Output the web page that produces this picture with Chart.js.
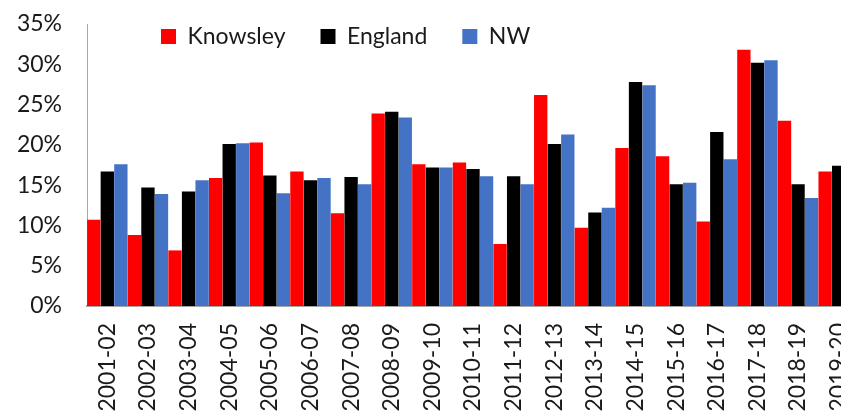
<!DOCTYPE html>
<html>
<head>
<meta charset="utf-8">
<script src="https://cdn.jsdelivr.net/npm/chart.js@4"></script>
<style>
  html, body { margin: 0; padding: 0; background: #fff; overflow: hidden; }
  canvas { display: block; }
</style>
</head>
<body>
<canvas id="chart" width="859" height="414"></canvas>
<script>
// Years shown on the x axis
const years = ['2001-02', '2002-03', '2003-04', '2004-05', '2005-06', '2006-07', '2007-08',
  '2008-09', '2009-10', '2010-11', '2011-12', '2012-13', '2013-14', '2014-15', '2015-16',
  '2016-17', '2017-18', '2018-19', '2019-20'];

// Values in percent
const knowsley = [10.7, 8.8, 6.9, 15.9, 20.3, 16.7, 11.5, 23.9, 17.6, 17.8, 7.7, 26.2, 9.7, 19.6, 18.6, 10.5, 31.8, 23.0, 16.7];
const england = [16.7, 14.7, 14.2, 20.1, 16.2, 15.6, 16.0, 24.1, 17.2, 17.0, 16.1, 20.1, 11.6, 27.8, 15.1, 21.6, 30.2, 15.1, 17.4];
const nw = [17.6, 13.9, 15.6, 20.2, 14.0, 15.9, 15.1, 23.4, 17.2, 16.1, 15.1, 21.3, 12.2, 27.4, 15.3, 18.2, 30.5, 13.4, 16.9];

const font = { family: 'Lato', size: 23 };
const textColor = '#1a1a1a';
const axisGrey = '#a6a6a6';

// legend sits inside the plot, so take it out of the layout and place it by hand
const legendPlacer = {
  id: 'legendPlacer',
  beforeLayout(chart) {
    const lg = chart.legend;
    if (!lg || lg._placed) return;
    lg._placed = true;
    const fit = lg.fit;
    lg.fit = function () {
      fit.call(this);
      this.realHeight = this.height;
      this.height = 0;
    };
  },
  afterLayout(chart) {
    const lg = chart.legend;
    const pad = lg.options.labels.padding;
    lg.left = 161 - pad;
    lg.right = chart.width;
    lg.width = lg.right - lg.left;
    lg.top = 25 - pad;
    lg.height = lg.realHeight;
    lg.bottom = lg.top + lg.height;
    lg.adjustHitBoxes();
  }
};

new Chart(document.getElementById('chart'), {
  type: 'bar',
  data: {
    labels: years,
    datasets: [
      { label: 'Knowsley', data: knowsley, backgroundColor: '#ff0000' },
      { label: 'England', data: england, backgroundColor: '#000000' },
      { label: 'NW', data: nw, backgroundColor: '#4472c4' }
    ]
  },
  options: {
    responsive: false,
    animation: false,
    layout: { padding: { top: 24, left: 0, right: 0, bottom: 0 } },
    datasets: { bar: { barPercentage: 0.985, categoryPercentage: 1 } },
    plugins: {
      tooltip: { enabled: false },
      legend: {
        position: 'top',
        align: 'start',
        labels: { boxWidth: 15, boxHeight: 15, padding: 35, color: textColor, font: font }
      }
    },
    scales: {
      x: {
        grid: { display: false, drawTicks: false },
        border: { color: axisGrey, width: 2 },
        ticks: { color: textColor, font: font, minRotation: 90, maxRotation: 90, padding: 17, autoSkip: false },
        afterFit(scale) {
          scale.height = 108;
          scale.paddingLeft = 0;
          scale.paddingRight = 0;
        }
      },
      y: {
        min: 0,
        max: 35,
        grid: { display: false, drawTicks: false },
        border: { color: axisGrey, width: 1 },
        ticks: { stepSize: 5, color: textColor, font: font, padding: 25, callback: v => v + '%' },
        afterFit(scale) {
          scale.width = 87;
          scale.paddingTop = 0;
          scale.paddingBottom = 0;
        }
      }
    }
  },
  plugins: [legendPlacer]
});
</script>
</body>
</html>
